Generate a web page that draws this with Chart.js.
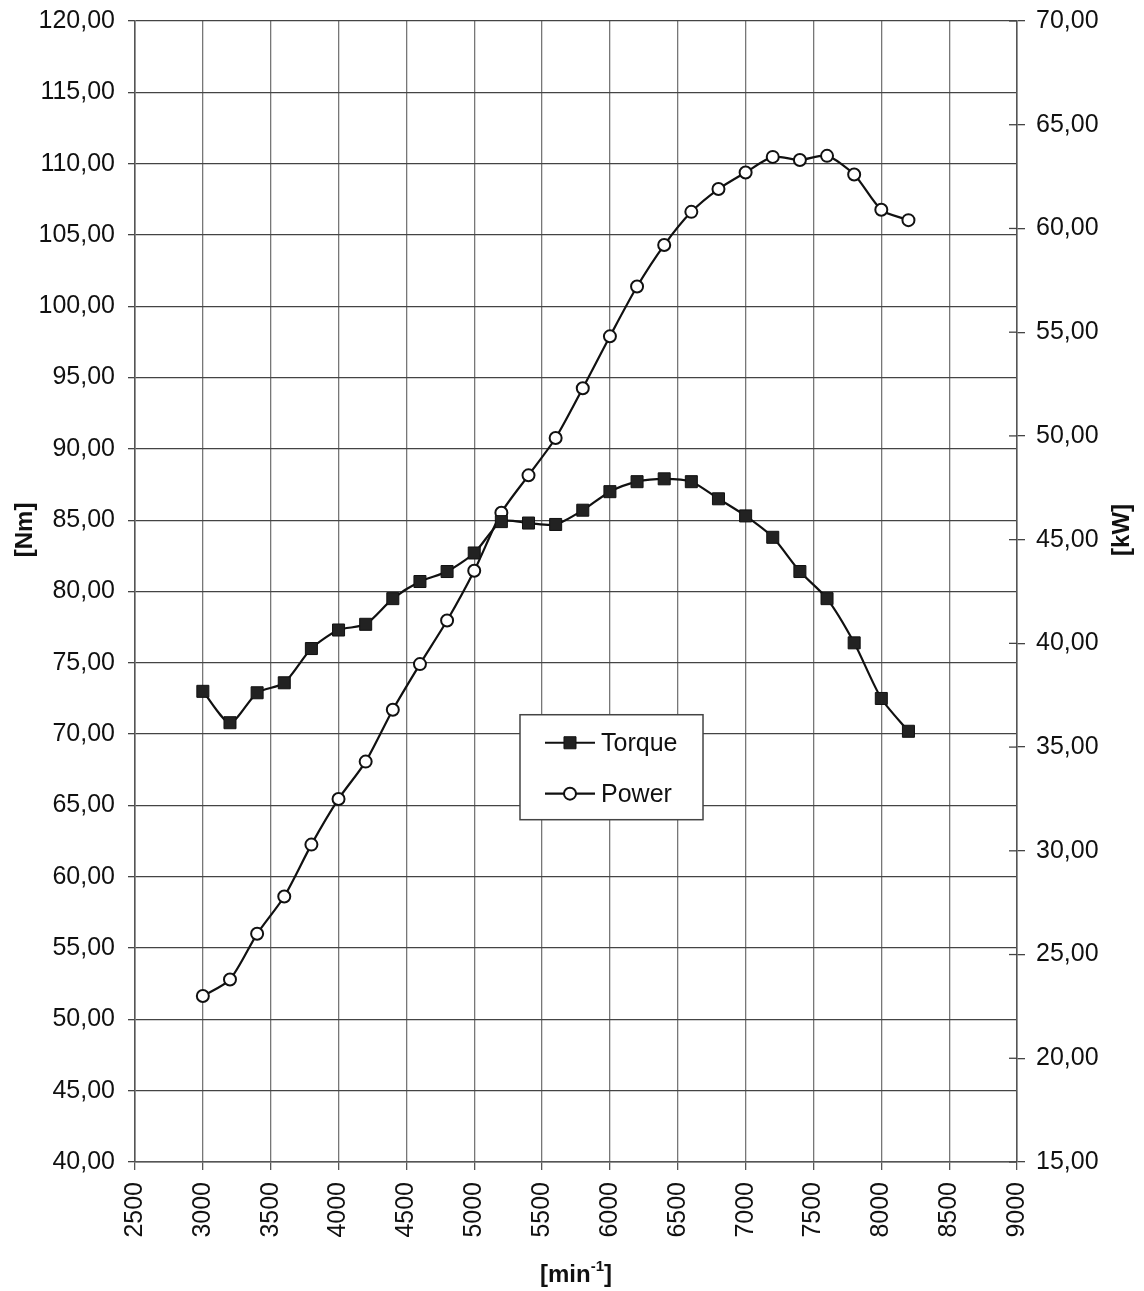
<!DOCTYPE html>
<html>
<head>
<meta charset="utf-8">
<script src="https://cdn.jsdelivr.net/npm/chart.js@4.4.0/dist/chart.umd.min.js"></script>
<style>
  html, body { margin: 0; padding: 0; background: #fff; }
  #wrap { width: 1144px; height: 1291px; }
</style>
</head>
<body>
<div id="wrap"><canvas id="chart" width="1144" height="1291"></canvas></div>
<script>
// Drehzahl in min^-1
const rpm = [3000, 3200, 3400, 3600, 3800, 4000, 4200, 4400, 4600, 4800, 5000, 5200, 5400, 5600,
             5800, 6000, 6200, 6400, 6600, 6800, 7000, 7200, 7400, 7600, 7800, 8000, 8200];

// Drehmoment in Nm (linke Achse)
const torque = [73.0, 70.8, 72.9, 73.6, 76.0, 77.3, 77.7, 79.5, 80.7, 81.4, 82.7, 84.9, 84.8, 84.7,
                85.7, 87.0, 87.7, 87.9, 87.7, 86.5, 85.3, 83.8, 81.4, 79.5, 76.4, 72.5, 70.2];

// Leistung in kW (rechte Achse)
const power = [23.0, 23.8, 26.0, 27.8, 30.3, 32.5, 34.3, 36.8, 39.0, 41.1, 43.5, 46.3, 48.1, 49.9,
               52.3, 54.8, 57.2, 59.2, 60.8, 61.9, 62.7, 63.45, 63.3, 63.5, 62.6, 60.9, 60.4];

// Achsen
const xRange = [2500, 9000, 500];
const nmRange = [40, 120, 5];
const kwRange = [15, 70, 5];

const FONT = "'Liberation Sans', Arial, sans-serif";
const INK = "#111";

function comma(v) {
  return Number(v).toFixed(2).replace(".", ",");
}

function points(ys) {
  return rpm.map((r, i) => ({ x: r, y: ys[i] }));
}

// Legende als Kasten im Diagramm
const legendBox = {
  id: "legendBox",
  afterDatasetsDraw(chart) {
    const { ctx, chartArea: a } = chart;
    const x0 = a.left + a.width * 0.4365;
    const x1 = a.left + a.width * 0.644;
    const y0 = a.top + a.height * 0.608;
    const y1 = a.top + a.height * 0.700;
    ctx.save();
    ctx.fillStyle = "#fff";
    ctx.fillRect(x0, y0, x1 - x0, y1 - y0);
    ctx.strokeStyle = "#444";
    ctx.lineWidth = 1.5;
    ctx.strokeRect(x0, y0, x1 - x0, y1 - y0);

    const rows = [0.267, 0.752];
    chart.data.datasets.forEach((ds, i) => {
      const y = y0 + (y1 - y0) * rows[i];
      ctx.strokeStyle = ds.borderColor;
      ctx.lineWidth = ds.borderWidth;
      ctx.beginPath();
      ctx.moveTo(x0 + 25, y);
      ctx.lineTo(x0 + 75, y);
      ctx.stroke();
      ctx.fillStyle = ds.pointBackgroundColor;
      ctx.strokeStyle = ds.pointBorderColor;
      ctx.lineWidth = ds.pointBorderWidth;
      Chart.helpers.drawPoint(ctx, {
        pointStyle: ds.pointStyle,
        radius: ds.pointRadius,
        rotation: 0,
        borderWidth: ds.pointBorderWidth
      }, x0 + 50, y);
      ctx.fillStyle = INK;
      ctx.font = "25px " + FONT;
      ctx.textBaseline = "middle";
      ctx.textAlign = "left";
      ctx.fillText(ds.label, x0 + 81, y + 1);
    });
    ctx.restore();
  }
};

// Achsentitel (unten mit Hochzahl, seitlich gedreht), Teilstriche rechts durch die Achse
const extras = {
  id: "extras",
  afterDraw(chart) {
    const { ctx, chartArea: a } = chart;
    ctx.save();
    ctx.fillStyle = INK;
    ctx.textBaseline = "alphabetic";
    ctx.textAlign = "left";
    const big = "bold 24px " + FONT;
    const small = "bold 15px " + FONT;
    ctx.font = big;
    const w1 = ctx.measureText("[min").width;
    const w3 = ctx.measureText("]").width;
    ctx.font = small;
    const w2 = ctx.measureText("-1").width;
    let x = (a.left + a.right) / 2 - (w1 + w2 + w3) / 2;
    const base = chart.height - 9;
    ctx.font = big;
    ctx.fillText("[min", x, base);
    x += w1;
    ctx.font = small;
    ctx.fillText("-1", x, base - 11);
    x += w2;
    ctx.font = big;
    ctx.fillText("]", x, base);

    // seitliche Titel, beide von unten nach oben gelesen
    const midY = a.top + a.height * 0.446;
    [["[Nm]", 25], ["[kW]", chart.width - 22]].forEach(([txt, cx]) => {
      ctx.save();
      ctx.translate(cx, midY);
      ctx.rotate(-Math.PI / 2);
      ctx.font = big;
      ctx.textAlign = "center";
      ctx.textBaseline = "middle";
      ctx.fillText(txt, 0, 0);
      ctx.restore();
    });

    const s = chart.scales.y2;
    ctx.strokeStyle = "#444";
    ctx.lineWidth = 1.3;
    s.ticks.forEach(t => {
      const py = s.getPixelForValue(t.value);
      ctx.beginPath();
      ctx.moveTo(a.right - 8, py);
      ctx.lineTo(a.right, py);
      ctx.stroke();
    });
    ctx.restore();
  }
};

// feste Breite, keine zusätzliche Randzugabe für Beschriftungen
function fixSide(w) {
  return s => { s.width = w; s.paddingTop = 0; s.paddingBottom = 0; };
}

new Chart(document.getElementById("chart"), {
  type: "line",
  data: {
    datasets: [
      {
        label: "Torque",
        data: points(torque),
        yAxisID: "y",
        borderColor: INK,
        borderWidth: 2.2,
        tension: 0.25,
        pointStyle: "rect",
        pointRadius: 8.5,
        pointBackgroundColor: "#222",
        pointBorderColor: INK,
        pointBorderWidth: 1
      },
      {
        label: "Power",
        data: points(power),
        yAxisID: "y2",
        borderColor: INK,
        borderWidth: 2.2,
        tension: 0.25,
        pointStyle: "circle",
        pointRadius: 6,
        pointBackgroundColor: "#fff",
        pointBorderColor: INK,
        pointBorderWidth: 2
      }
    ]
  },
  options: {
    responsive: false,
    animation: false,
    layout: { padding: { top: 21, left: 0, right: 0, bottom: 0 } },
    plugins: {
      legend: { display: false },
      tooltip: { enabled: false }
    },
    scales: {
      x: {
        type: "linear",
        min: xRange[0],
        max: xRange[1],
        afterFit(s) { s.height = 129; s.paddingLeft = 0; s.paddingRight = 0; },
        ticks: {
          stepSize: xRange[2],
          minRotation: 90,
          maxRotation: 90,
          padding: 12,
          color: INK,
          font: { family: FONT, size: 25 },
          callback: v => String(v)
        },
        grid: { color: "#777", lineWidth: 1.3, tickLength: 8, tickColor: "#555" },
        border: { color: "#555", width: 1.5 }
      },
      y: {
        position: "left",
        min: nmRange[0],
        max: nmRange[1],
        afterFit: fixSide(135),
        ticks: {
          stepSize: nmRange[2],
          padding: 13,
          color: INK,
          font: { family: FONT, size: 25 },
          callback: v => comma(v)
        },
        grid: { color: "#444", lineWidth: 1.3, tickLength: 7, tickColor: "#444" },
        border: { color: "#555", width: 1.5 }
      },
      y2: {
        position: "right",
        min: kwRange[0],
        max: kwRange[1],
        afterFit: fixSide(127),
        ticks: {
          stepSize: kwRange[2],
          padding: 11,
          color: INK,
          font: { family: FONT, size: 25 },
          callback: v => comma(v)
        },
        grid: { drawOnChartArea: false, tickLength: 8, tickColor: "#444", lineWidth: 1.3 },
        border: { color: "#555", width: 1.5 }
      }
    }
  },
  plugins: [legendBox, extras]
});
</script>
</body>
</html>
